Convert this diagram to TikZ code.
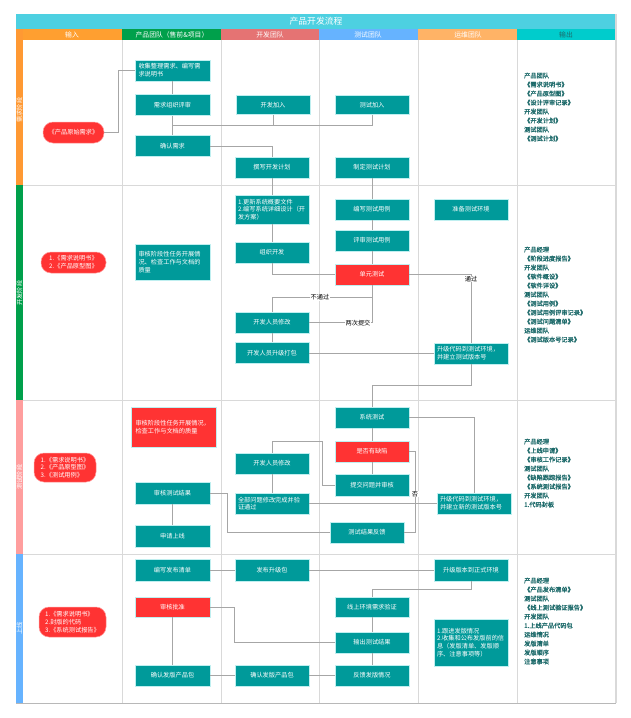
\documentclass[tikz,border=0pt]{standalone}
\usepackage{fontspec}
\setmainfont{Noto Sans CJK SC}
\newfontfamily\outfont[FakeBold=1.2]{Noto Sans CJK SC}
\usetikzlibrary{calc}
\definecolor{tealc}{HTML}{009A9A}
\definecolor{redc}{HTML}{FF3333}
\definecolor{boxedge}{HTML}{BFEFF0}
\definecolor{linec}{HTML}{A6A6A6}
\definecolor{gridc}{HTML}{D9D9D9}
\definecolor{outc}{HTML}{1D6A6A}
\definecolor{titlec}{HTML}{4DD0E1}
\definecolor{hin}{HTML}{FF9F30}
\definecolor{hprod}{HTML}{00A04B}
\definecolor{hdev}{HTML}{E57373}
\definecolor{htest}{HTML}{66B3FF}
\definecolor{hops}{HTML}{FFB366}
\definecolor{hout}{HTML}{00CCCC}
\definecolor{phA}{HTML}{FF9933}
\definecolor{phB}{HTML}{00A04B}
\definecolor{phC}{HTML}{FF9E9E}
\definecolor{phD}{HTML}{66B3FF}
\newcommand\myfs{\fontsize{6.2pt}{7.8pt}\selectfont}
\newcommand\myofs{\outfont\fontsize{6.2pt}{9pt}\selectfont}
\newcommand\myhfs{\fontsize{6.8pt}{8pt}\selectfont}
\newcommand\mytfs{\fontsize{8.8pt}{10pt}\selectfont}
\begin{document}
\begin{tikzpicture}[x=1pt,y=-1pt,
  conn/.style={draw=linec, line width=0.7pt},
  gridline/.style={draw=gridc, line width=0.9pt},
  box/.style={draw=boxedge, line width=0.5pt, fill=tealc, text=white, font=\myfs, minimum width=74pt, minimum height=21pt, inner sep=1pt, align=center},
  rbox/.style={box, fill=redc},
  lbox/.style={box, align=left, text width=68pt, inner xsep=3pt},
  inbox/.style={rounded corners=10pt, fill=redc, draw=redc!50!white, line width=0.5pt, text=white, font=\myfs, align=left, inner sep=2pt},
  lbl/.style={font=\myfs, text=black, fill=white, inner sep=0.5pt},
  outtxt/.style={font=\myofs, text=outc, align=left, anchor=north west, inner sep=0pt},
  hdr/.style={font=\myhfs, text=white, inner sep=0pt},
  phlbl/.style={font=\myfs, text=white, rotate=90, inner sep=0pt}
]
\useasboundingbox (0,0) rectangle (630,718);
\fill[white] (0,0) rectangle (630,718);

% title and header
\fill[titlec] (16,14) rectangle (616,29);
\node[font=\mytfs, text=white, inner sep=0pt] (title) at (316,21.5) {产品开发流程};
\fill[hin] (16,29) rectangle (122,40);
\fill[hprod] (122,29) rectangle (221,40);
\fill[hdev] (221,29) rectangle (319,40);
\fill[htest] (319,29) rectangle (418,40);
\fill[hops] (418,29) rectangle (517,40);
\fill[hout] (517,29) rectangle (616,40);
\node[hdr] (h1) at (72,34.5) {输入};
\node[hdr] (h2) at (172,34.5) {产品团队（售前\&项目）};
\node[hdr] (h3) at (270,34.5) {开发团队};
\node[hdr] (h4) at (368,34.5) {测试团队};
\node[hdr] (h5) at (468,34.5) {运维团队};
\node[hdr, text=outc] (h6) at (566,34.5) {输出};

% phase strips
\fill[phA] (16,29) rectangle (23,185);
\fill[phB] (16,185) rectangle (23,400);
\fill[phC] (16,400) rectangle (23,554);
\fill[phD] (16,554) rectangle (23,703);
\node[phlbl] (ph1) at (19.5,110) {需求阶段};
\node[phlbl] (ph2) at (19.5,293) {开发阶段};
\node[phlbl] (ph3) at (19.5,477) {测试阶段};
\node[phlbl] (ph4) at (19.5,628) {上线};

% grid
\foreach \gx in {122,221,319,418,517} \draw[gridline] (\gx,40) -- (\gx,703);
\foreach \gy in {185,400,554} \draw[gridline] (23,\gy) -- (616,\gy);
\draw[draw=gridc, line width=1.2pt] (616,14) -- (616,703);
\draw[draw=linec!80, line width=1pt] (16,703) -- (616,703);

% ===== requirement phase =====
\node[inbox, minimum width=61pt, minimum height=21pt, align=center] (in1) at (73.5,132.5) {《产品原始需求》};
\node[lbox, minimum width=75pt] (p1) at (172.5,70.5) {收集整理需求、编写需\\求说明书};
\node[box, minimum width=75pt] (p2) at (172.5,105) {需求组织评审};
\node[box, minimum width=75pt] (p3) at (172.5,146) {确认需求};
\node[box, minimum height=19pt] (d1) at (273,105) {开发加入};
\node[box, minimum height=19pt] (t1) at (372,105) {测试加入};
\node[box] (d2) at (272,167.5) {撰写开发计划};
\node[box] (t2) at (372,167.5) {制定测试计划};

% ===== development phase =====
\node[inbox, minimum width=65pt, minimum height=21pt] (in2) at (73.5,262.5) {1.《需求说明书》\\2.《产品原型图》};
\node[lbox, minimum width=75pt, minimum height=36pt] (p4) at (172.5,262) {审核阶段性任务开展情\\况、检查工作与文档的\\质量};
\node[lbox, minimum height=29pt] (d3) at (272,209.5) {1.更新系统概要文件\\2.编写系统详细设计（开\\发方案）};
\node[box] (d4) at (272,252.5) {组织开发};
\node[box] (t3) at (372,209.5) {编写测试用例};
\node[box] (t4) at (372,240.5) {评审测试用例};
\node[rbox] (t5) at (372,274.5) {单元测试};
\node[box] (d5) at (272,322.5) {开发人员修改};
\node[box] (d6) at (272,353) {开发人员升级打包};
\node[box] (o1) at (471,209.5) {准备测试环境};
\node[lbox] (o2) at (471,353.5) {升级代码到测试环境，\\并建立测试版本号};

% ===== test phase =====
\node[rbox, align=left, text width=76pt, inner xsep=4.5pt, minimum height=40pt] (p5) at (173.5,427) {审核阶段性任务开展情况，\\检查工作与文档的质量};
\node[inbox, minimum width=62pt, minimum height=29pt] (in3) at (65,467.5) {1.《需求说明书》\\2.《产品原型图》\\3.《测试用例》};
\node[box, minimum width=75pt, minimum height=22pt] (p6) at (172.5,493) {审核测试结果};
\node[box, minimum width=75pt, minimum height=22pt] (p7) at (172.5,536) {申请上线};
\node[box] (t6) at (372,417.5) {系统测试};
\node[rbox] (t7) at (372,451.5) {是否有缺陷};
\node[box, minimum height=22pt] (t8) at (372,485) {提交问题并审核};
\node[box] (d7) at (272,463.5) {开发人员修改};
\node[lbox] (d8) at (272,503.5) {全部问题修改完成并验\\证通过};
\node[box] (t9) at (367,532.5) {测试结果反馈};
\node[lbox] (o3) at (474,503.5) {升级代码到测试环境，\\并建立新的测试版本号};

% ===== launch phase =====
\node[inbox, minimum width=67pt, minimum height=30pt] (in4) at (72.5,622) {1.《需求说明书》\\2.封版的代码\\3.《系统测试报告》};
\node[box, minimum width=75pt, minimum height=22pt] (p8) at (172.5,570) {编写发布清单};
\node[rbox, minimum width=75pt, minimum height=20pt] (p9) at (172.5,607) {审核批准};
\node[box, minimum width=75pt] (p10) at (172.5,675.5) {确认发版产品包};
\node[box, minimum height=22pt] (d9) at (272,570) {发布升级包};
\node[box] (d10) at (272,675.5) {确认发版产品包};
\node[box, minimum height=20pt] (t10) at (372,607) {线上环境需求验证};
\node[box] (t11) at (372,642.5) {输出测试结果};
\node[box] (t12) at (372,675.5) {反馈发版情况};
\node[box, minimum height=22pt] (o4) at (471,570) {升级版本到正式环境};
\node[lbox, minimum height=47pt] (o5) at (471,642.5) {1.跟进发版情况\\2.收集和公布发版前的信\\息（发版清单、发版顺\\序、注意事项等）};

% ===== outputs =====
\node[outtxt] (out1) at (524,72.5) {产品团队\\《需求说明书》\\《产品原型图》\\《设计评审记录》\\开发团队\\《开发计划》\\测试团队\\《测试计划》};
\node[outtxt] (out2) at (524,246.5) {产品经理\\《阶段进度报告》\\开发团队\\《软件概设》\\《软件详设》\\测试团队\\《测试用例》\\《测试用例评审记录》\\《测试问题清单》\\运维团队\\《测试版本号记录》};
\node[outtxt] (out3) at (524,438.5) {产品经理\\《上线申请》\\《审核工作记录》\\测试团队\\《缺陷跟踪报告》\\《系统测试报告》\\开发团队\\1.代码封板};
\node[outtxt] (out4) at (524,577.5) {产品经理\\《产品发布清单》\\测试团队\\《线上测试验证报告》\\开发团队\\1.上线产品代码包\\运维情况\\发版清单\\发版顺序\\注意事项};

% ===== connectors =====
\draw[conn] (in1.east) -- ++(14,0) |- (p1.west);
\draw[conn] (p1.south) -- (p2.north);
\draw[conn] (p2.south) -- (p3.north);
\coordinate (j1) at (172.5,125);
\draw[conn] (j1) -| (d1.south);
\draw[conn] (j1) -| (t1.south);
\draw[conn] (p3.east) -| (d2.north);
\draw[conn] (t2.south) -- (t3.north);
\draw[conn] (d2.south) -- (d3.north);
\draw[conn] (d3.south) -- (d4.north);
\draw[conn] (t3.south) -- (t4.north);
\draw[conn] (t4.south) -- (t5.north);
\draw[conn] (d4.south) |- (t5.west);
\draw[conn] (t5.east) -| (o2.north);
\node[lbl] (lb1) at (471,279) {通过};
\draw[conn] (t5.south) -- (t5.south |- 0,297) -| (d5.north);
\node[lbl] (lb2) at (320,297.5) {不通过};
\draw[conn] (d5.east) -| (t5.south);
\node[lbl] (lb3) at (358,323) {两次提交};
\draw[conn] (d5.south) -- (d6.north);
\draw[conn] (d6.east) -- (d6.east -| o2.west);
\draw[conn] (o2.south) -- (o2.south |- 0,385) -| (t6.north);
\draw[conn] (t6.east) -| (o3.north);
\draw[conn] (t6.south) -- (t7.north);
\draw[conn] (t7.south) -- (t8.north);
\draw[conn] (t7.east) -- ++(6,0) |- (t9.east);
\node[lbl] (lb4) at (415,494) {否};
\draw[conn] (t8.west) -- ++(-12,0) -- ++(0,-44) -| (d7.north);
\draw[conn] (d7.south) -- (d8.north);
\draw[conn] (d8.east) -- (d8.east -| o3.west);
\draw[conn] (t9.west) -- (t9.west -| 227,0) |- (p6.east);
\draw[conn] (p6.south) -- (p7.north);
\draw[conn] (p8.east) -- (d9.west);
\draw[conn] (d9.east) -- (o4.west);
\draw[conn] (o4.south) -- (o4.south |- 0,589) -| (t10.north);
\draw[conn] (t10.south) -- (t11.north);
\draw[conn] (t11.south) -- (t12.north);
\draw[conn] (p9.east) -- (p9.east -| 234,0) |- (t11.west);
\draw[conn] (p9.south) -- (p10.north);
\draw[conn] (p10.east) -- (d10.west);
\draw[conn] (d10.east) -- (t12.west);
\end{tikzpicture}
\end{document}
